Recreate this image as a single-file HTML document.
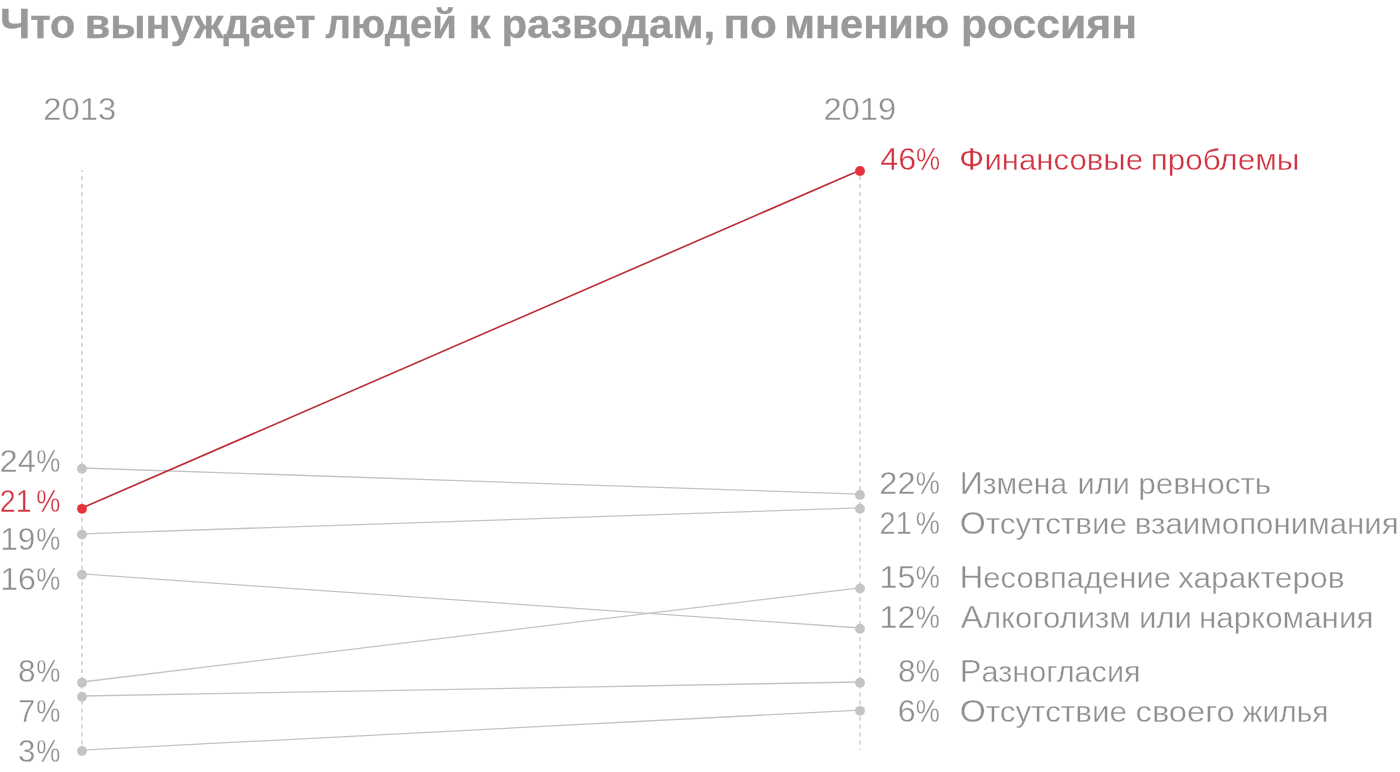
<!DOCTYPE html>
<html lang="ru"><head><meta charset="utf-8"><title>Что вынуждает людей к разводам, по мнению россиян</title>
<style>html,body{margin:0;padding:0;background:#fff}svg{display:block}text{font-family:"Liberation Sans",sans-serif;}</style></head><body>
<svg width="1400" height="772" viewBox="0 0 1400 772">
<rect width="1400" height="772" fill="#ffffff"/>
<g id="grid" stroke="#d9d9d9" stroke-width="1.9" stroke-dasharray="3.975 3.975" stroke-dashoffset="1.95" fill="none">
<line x1="82" y1="170" x2="82" y2="750"/>
<line x1="860" y1="170" x2="860" y2="750"/></g>
<g id="series">
<line x1="82" y1="468.00" x2="860" y2="494.10" stroke="#c4c4c4" stroke-width="1.3"/>
<line x1="82" y1="533.80" x2="860" y2="507.95" stroke="#c4c4c4" stroke-width="1.3"/>
<line x1="82" y1="573.95" x2="860" y2="628.00" stroke="#c4c4c4" stroke-width="1.3"/>
<line x1="82" y1="682.00" x2="860" y2="587.80" stroke="#c4c4c4" stroke-width="1.3"/>
<line x1="82" y1="696.00" x2="860" y2="682.00" stroke="#c4c4c4" stroke-width="1.3"/>
<line x1="82" y1="750.20" x2="860" y2="710.05" stroke="#c4c4c4" stroke-width="1.3"/>
<line x1="82" y1="508.05" x2="860" y2="170.20" stroke="#bd2f3c" stroke-width="1.65"/>
<circle cx="82" cy="468.8" r="4.95" fill="#c4c4c4"/><circle cx="860" cy="494.9" r="4.95" fill="#c4c4c4"/>
<circle cx="82" cy="534.6" r="4.95" fill="#c4c4c4"/><circle cx="860" cy="508.75" r="4.95" fill="#c4c4c4"/>
<circle cx="82" cy="574.75" r="4.95" fill="#c4c4c4"/><circle cx="860" cy="628.8" r="4.95" fill="#c4c4c4"/>
<circle cx="82" cy="682.8" r="4.95" fill="#c4c4c4"/><circle cx="860" cy="588.6" r="4.95" fill="#c4c4c4"/>
<circle cx="82" cy="696.8" r="4.95" fill="#c4c4c4"/><circle cx="860" cy="682.8" r="4.95" fill="#c4c4c4"/>
<circle cx="82" cy="751.0" r="4.95" fill="#c4c4c4"/><circle cx="860" cy="710.85" r="4.95" fill="#c4c4c4"/>
<circle cx="82" cy="508.85" r="4.95" fill="#e6323d"/><circle cx="860" cy="171.0" r="4.95" fill="#e6323d"/>
</g><g id="labels">
<text id="title" y="37.7" font-size="41.3" font-weight="bold" fill="#999999" stroke="#999999" stroke-width="0.4"><tspan id="title_0" x="0.05" textLength="75.34" lengthAdjust="spacingAndGlyphs"><tspan font-size="43">Ч</tspan>то</tspan> <tspan id="title_1" x="84.70" textLength="230.92" lengthAdjust="spacingAndGlyphs">вынуждает</tspan> <tspan id="title_2" x="325.60" textLength="131.37" lengthAdjust="spacingAndGlyphs">людей</tspan> <tspan id="title_3" x="468.45" textLength="22.03" lengthAdjust="spacingAndGlyphs">к</tspan> <tspan id="title_4" x="501.50" textLength="213.64" lengthAdjust="spacingAndGlyphs">разводам,</tspan> <tspan id="title_5" x="723.45" textLength="53.44" lengthAdjust="spacingAndGlyphs">по</tspan> <tspan id="title_6" x="784.15" textLength="165.26" lengthAdjust="spacingAndGlyphs">мнению</tspan> <tspan id="title_7" x="961.05" textLength="175.93" lengthAdjust="spacingAndGlyphs">россиян</tspan></text>
<text id="y2013" x="43.25" y="119.8" font-size="32" font-weight="normal" fill="#8f8f8f" stroke="#ffffff" stroke-width="0.35" textLength="72.91" lengthAdjust="spacingAndGlyphs">2013</text>
<text id="y2019" x="823.40" y="119.8" font-size="32" font-weight="normal" fill="#8f8f8f" stroke="#ffffff" stroke-width="0.35" textLength="72.78" lengthAdjust="spacingAndGlyphs">2019</text>
<text id="l24" y="471.6" font-size="32" font-weight="normal" fill="#8f8f8f" stroke="#ffffff" stroke-width="0.35"><tspan id="l24_d" x="-0.50" textLength="36.36" lengthAdjust="spacingAndGlyphs">24</tspan><tspan id="l24_p" x="36.15" textLength="24.16" lengthAdjust="spacingAndGlyphs">%</tspan></text>
<text id="l21" y="511.8" font-size="32" font-weight="normal" fill="#d2323f" stroke="#ffffff" stroke-width="0.35"><tspan id="l21_d" x="-0.25" textLength="31.82" lengthAdjust="spacingAndGlyphs">21</tspan><tspan id="l21_p" x="36.15" textLength="24.16" lengthAdjust="spacingAndGlyphs">%</tspan></text>
<text id="l19" y="549.6" font-size="32" font-weight="normal" fill="#8f8f8f" stroke="#ffffff" stroke-width="0.35"><tspan id="l19_d" x="0.20" textLength="35.20" lengthAdjust="spacingAndGlyphs">19</tspan><tspan id="l19_p" x="36.15" textLength="24.16" lengthAdjust="spacingAndGlyphs">%</tspan></text>
<text id="l16" y="589.7" font-size="32" font-weight="normal" fill="#8f8f8f" stroke="#ffffff" stroke-width="0.35"><tspan id="l16_d" x="0.20" textLength="35.69" lengthAdjust="spacingAndGlyphs">16</tspan><tspan id="l16_p" x="36.15" textLength="24.16" lengthAdjust="spacingAndGlyphs">%</tspan></text>
<text id="l8" y="681.6" font-size="32" font-weight="normal" fill="#8f8f8f" stroke="#ffffff" stroke-width="0.35"><tspan id="l8_d" x="18.05" textLength="17.61" lengthAdjust="spacingAndGlyphs">8</tspan><tspan id="l8_p" x="36.15" textLength="24.16" lengthAdjust="spacingAndGlyphs">%</tspan></text>
<text id="l7" y="721.7" font-size="32" font-weight="normal" fill="#8f8f8f" stroke="#ffffff" stroke-width="0.35"><tspan id="l7_d" x="18.20" textLength="16.98" lengthAdjust="spacingAndGlyphs">7</tspan><tspan id="l7_p" x="36.15" textLength="24.16" lengthAdjust="spacingAndGlyphs">%</tspan></text>
<text id="l3" y="761.7" font-size="32" font-weight="normal" fill="#8f8f8f" stroke="#ffffff" stroke-width="0.35"><tspan id="l3_d" x="18.00" textLength="17.47" lengthAdjust="spacingAndGlyphs">3</tspan><tspan id="l3_p" x="36.15" textLength="24.16" lengthAdjust="spacingAndGlyphs">%</tspan></text>
<text id="r46" y="169.6" font-size="32" font-weight="normal" fill="#d2323f" stroke="#ffffff" stroke-width="0.35"><tspan id="r46_d" x="880.35" textLength="35.79" lengthAdjust="spacingAndGlyphs">46</tspan><tspan id="r46_p" x="916.10" textLength="24.12" lengthAdjust="spacingAndGlyphs">%</tspan></text>
<text id="r22" y="493.8" font-size="32" font-weight="normal" fill="#8f8f8f" stroke="#ffffff" stroke-width="0.35"><tspan id="r22_d" x="879.35" textLength="36.20" lengthAdjust="spacingAndGlyphs">22</tspan><tspan id="r22_p" x="915.75" textLength="24.12" lengthAdjust="spacingAndGlyphs">%</tspan></text>
<text id="r21" y="533.9" font-size="32" font-weight="normal" fill="#8f8f8f" stroke="#ffffff" stroke-width="0.35"><tspan id="r21_d" x="879.60" textLength="32.07" lengthAdjust="spacingAndGlyphs">21</tspan><tspan id="r21_p" x="915.75" textLength="24.12" lengthAdjust="spacingAndGlyphs">%</tspan></text>
<text id="r15" y="587.7" font-size="32" font-weight="normal" fill="#8f8f8f" stroke="#ffffff" stroke-width="0.35"><tspan id="r15_d" x="879.50" textLength="35.97" lengthAdjust="spacingAndGlyphs">15</tspan><tspan id="r15_p" x="915.75" textLength="24.12" lengthAdjust="spacingAndGlyphs">%</tspan></text>
<text id="r12" y="627.8" font-size="32" font-weight="normal" fill="#8f8f8f" stroke="#ffffff" stroke-width="0.35"><tspan id="r12_d" x="879.50" textLength="35.97" lengthAdjust="spacingAndGlyphs">12</tspan><tspan id="r12_p" x="915.75" textLength="24.12" lengthAdjust="spacingAndGlyphs">%</tspan></text>
<text id="r8" y="681.7" font-size="32" font-weight="normal" fill="#8f8f8f" stroke="#ffffff" stroke-width="0.35"><tspan id="r8_d" x="898.00" textLength="17.59" lengthAdjust="spacingAndGlyphs">8</tspan><tspan id="r8_p" x="915.75" textLength="24.12" lengthAdjust="spacingAndGlyphs">%</tspan></text>
<text id="r6" y="721.8" font-size="32" font-weight="normal" fill="#8f8f8f" stroke="#ffffff" stroke-width="0.35"><tspan id="r6_d" x="897.75" textLength="17.90" lengthAdjust="spacingAndGlyphs">6</tspan><tspan id="r6_p" x="915.75" textLength="24.12" lengthAdjust="spacingAndGlyphs">%</tspan></text>
<text id="t46" y="169.6" font-size="30" font-weight="normal" fill="#d2323f" stroke="#ffffff" stroke-width="0.35"><tspan id="t46_0" x="959.10" textLength="184.02" lengthAdjust="spacingAndGlyphs"><tspan font-size="32">Ф</tspan>инансовые</tspan> <tspan id="t46_1" x="1150.80" textLength="148.60" lengthAdjust="spacingAndGlyphs">проблемы</tspan></text>
<text id="t22" y="493.8" font-size="30" font-weight="normal" fill="#8f8f8f" stroke="#ffffff" stroke-width="0.35"><tspan id="t22_0" x="959.80" textLength="107.29" lengthAdjust="spacingAndGlyphs"><tspan font-size="32">И</tspan>змена</tspan> <tspan id="t22_1" x="1077.45" textLength="52.45" lengthAdjust="spacingAndGlyphs">или</tspan> <tspan id="t22_2" x="1138.15" textLength="133.11" lengthAdjust="spacingAndGlyphs">ревность</tspan></text>
<text id="t21" y="533.9" font-size="30" font-weight="normal" fill="#8f8f8f" stroke="#ffffff" stroke-width="0.35"><tspan id="t21_0" x="959.65" textLength="167.27" lengthAdjust="spacingAndGlyphs"><tspan font-size="32">О</tspan>тсутствие</tspan> <tspan id="t21_1" x="1134.80" textLength="263.94" lengthAdjust="spacingAndGlyphs">взаимопонимания</tspan></text>
<text id="t15" y="587.7" font-size="30" font-weight="normal" fill="#8f8f8f" stroke="#ffffff" stroke-width="0.35"><tspan id="t15_0" x="959.50" textLength="211.46" lengthAdjust="spacingAndGlyphs"><tspan font-size="32">Н</tspan>есовпадение</tspan> <tspan id="t15_1" x="1177.95" textLength="166.59" lengthAdjust="spacingAndGlyphs">характеров</tspan></text>
<text id="t12" y="627.8" font-size="30" font-weight="normal" fill="#8f8f8f" stroke="#ffffff" stroke-width="0.35"><tspan id="t12_0" x="960.80" textLength="169.95" lengthAdjust="spacingAndGlyphs"><tspan font-size="32">А</tspan>лкоголизм</tspan> <tspan id="t12_1" x="1138.90" textLength="53.05" lengthAdjust="spacingAndGlyphs">или</tspan> <tspan id="t12_2" x="1198.95" textLength="174.43" lengthAdjust="spacingAndGlyphs">наркомания</tspan></text>
<text id="t8" x="959.85" y="681.7" font-size="30" font-weight="normal" fill="#8f8f8f" stroke="#ffffff" stroke-width="0.35" textLength="180.75" lengthAdjust="spacingAndGlyphs"><tspan font-size="32">Р</tspan>азногласия</text>
<text id="t6" y="721.8" font-size="30" font-weight="normal" fill="#8f8f8f" stroke="#ffffff" stroke-width="0.35"><tspan id="t6_0" x="959.65" textLength="167.27" lengthAdjust="spacingAndGlyphs"><tspan font-size="32">О</tspan>тсутствие</tspan> <tspan id="t6_1" x="1135.55" textLength="99.01" lengthAdjust="spacingAndGlyphs">своего</tspan> <tspan id="t6_2" x="1242.60" textLength="85.75" lengthAdjust="spacingAndGlyphs">жилья</tspan></text>
</g></svg></body></html>
